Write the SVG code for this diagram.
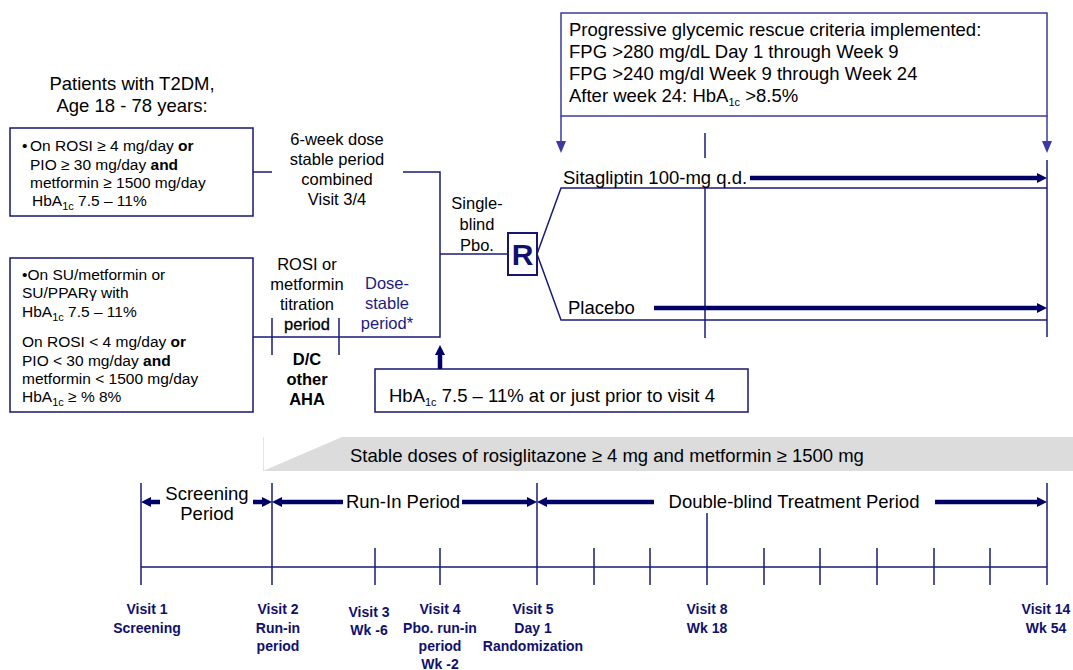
<svg xmlns="http://www.w3.org/2000/svg" width="1073" height="670" viewBox="0 0 1073 670">
<defs>
<style>
text{font-family:"Liberation Sans",Arial,sans-serif;fill:#000}
.t185{font-size:18.5px}
.t165{font-size:16.5px}
.t155{font-size:15.5px}
.sub{font-size:11px}
.b{font-weight:bold}
.mid{text-anchor:middle}
.navy{fill:#1c1c80}
.visit{font-size:14px;font-weight:bold;fill:#10106e;text-anchor:middle}
.box{fill:#fff;stroke:#16166e;stroke-width:1.5}
.thin{stroke:#1a1a78;stroke-width:1.5;fill:none}
.thick{stroke:#000066;stroke-width:4.5;fill:none}
.resc{stroke:#3a3aa0;stroke-width:1.5;fill:none}
</style>
<marker id="ah" markerUnits="userSpaceOnUse" markerWidth="10" markerHeight="10" viewBox="0 0 10 10" refX="0" refY="5" orient="auto-start-reverse">
<path d="M0,0 L10,5 L0,10 z" fill="#000066"/>
</marker>
<marker id="ahr" markerUnits="userSpaceOnUse" markerWidth="12" markerHeight="10" viewBox="0 0 12 10" refX="0" refY="5" orient="auto">
<path d="M0,0 L12,5 L0,10 z" fill="#3a3aa0"/>
</marker>
</defs>
<rect width="1073" height="670" fill="#fff"/>

<g id="title">
<text class="t185 mid" x="132" y="90">Patients with T2DM,</text>
<text class="t185 mid" x="132" y="112">Age 18 - 78 years:</text>
</g>

<g id="box1">
<rect class="box" x="10" y="128" width="243" height="88"/>
<text class="t155" x="22" y="151">•<tspan x="30">On ROSI ≥ 4 mg/day </tspan><tspan class="b">or</tspan></text>
<text class="t155" x="30" y="169.5">PIO ≥ 30 mg/day <tspan class="b">and</tspan></text>
<text class="t155" x="30" y="188">metformin ≥ 1500 mg/day</text>
<text class="t155" x="32" y="206">HbA<tspan class="sub" dy="4">1c</tspan><tspan dy="-4"> 7.5 – 11%</tspan></text>
</g>

<g id="box2">
<rect class="box" x="10" y="258" width="243" height="154"/>
<text class="t155" x="22" y="280">•On SU/metformin or</text>
<text class="t155" x="22" y="298">SU/PPARγ with</text>
<text class="t155" x="22" y="317">HbA<tspan class="sub" dy="4">1c</tspan><tspan dy="-4"> 7.5 – 11%</tspan></text>
<text class="t155" x="22" y="347">On ROSI &lt; 4 mg/day <tspan class="b">or</tspan></text>
<text class="t155" x="22" y="365.5">PIO &lt; 30 mg/day <tspan class="b">and</tspan></text>
<text class="t155" x="22" y="384">metformin &lt; 1500 mg/day</text>
<text class="t155" x="22" y="402">HbA<tspan class="sub" dy="4">1c</tspan><tspan dy="-4"> ≥ % 8%</tspan></text>
</g>

<g id="dose-stable-label">
<text class="t165 mid" x="337" y="144.5">6-week dose</text>
<text class="t165 mid" x="337" y="164.5">stable period</text>
<text class="t165 mid" x="337" y="185">combined</text>
<text class="t165 mid" x="337" y="205">Visit 3/4</text>
</g>

<g id="titration-label">
<text class="t165 mid" x="307" y="270">ROSI or</text>
<text class="t165 mid" x="307" y="290">metformin</text>
<text class="t165 mid" x="307" y="310">titration</text>
<text class="t165 mid" x="307" y="330" stroke="#000" stroke-width="0.3">period</text>
</g>

<g id="dose-stable-period">
<text class="t165 mid navy" x="387" y="289">Dose-</text>
<text class="t165 mid navy" x="387" y="309">stable</text>
<text class="t165 mid navy" x="387" y="329">period*</text>
</g>

<g id="dc-aha">
<text class="t165 mid b" x="307" y="365">D/C</text>
<text class="t165 mid b" x="307" y="385">other</text>
<text class="t165 mid b" x="307" y="405">AHA</text>
</g>

<g id="single-blind">
<text class="t165 mid" x="477" y="209">Single-</text>
<text class="t165 mid" x="477" y="230">blind</text>
<text class="t165 mid" x="477" y="251">Pbo.</text>
</g>

<g id="R">
<rect x="508" y="233" width="29" height="42" fill="#fff" stroke="#16166e" stroke-width="2"/>
<text x="522.5" y="265" text-anchor="middle" font-size="30" font-weight="bold" style="fill:#10106e">R</text>
</g>

<g id="rescue">
<rect x="561" y="13" width="486" height="103" fill="#fff" stroke="#3a3aa0" stroke-width="1.5"/>
<text class="t185" x="569" y="36">Progressive glycemic rescue criteria implemented:</text>
<text class="t185" x="569" y="58">FPG &gt;280 mg/dL Day 1 through Week 9</text>
<text class="t185" x="569" y="80">FPG &gt;240 mg/dl Week 9 through Week 24</text>
<text class="t185" x="569" y="102">After week 24: HbA<tspan class="sub" dy="4">1c</tspan><tspan dy="-4"> &gt;8.5%</tspan></text>
</g>

<g id="hba1c-box">
<rect class="box" x="375" y="369" width="373" height="43"/>
<text class="t185" x="389" y="402">HbA<tspan class="sub" dy="4">1c</tspan><tspan dy="-4"> 7.5 – 11% at or just prior to visit 4</tspan></text>
</g>

<g id="stable-band">
<polygon points="342,437 1073,437 1073,471 263,471" fill="#dcdcdc"/>
<line x1="263.5" y1="437" x2="263.5" y2="471" stroke="#e4e4e4" stroke-width="1"/>
<text class="t185" x="350" y="462">Stable doses of rosiglitazone ≥ 4 mg and metformin ≥ 1500 mg</text>
</g>

<g id="connectors">
<polyline class="thin" points="253,172 272,172"/>
<polyline class="thin" points="403,172 440,172 440,337 253,337"/>
<line class="thin" x1="272" y1="318" x2="272" y2="355"/>
<line class="thin" x1="339" y1="318" x2="339" y2="355"/>
<line class="thin" x1="440" y1="254" x2="508" y2="254"/>
<polyline class="thin" points="537,254 561,188 1047,188"/>
<polyline class="thin" points="537,254 561,320 1047,320"/>
<line class="thin" x1="705" y1="133" x2="705" y2="158"/>
<line class="thin" x1="705" y1="188" x2="705" y2="338"/>
<line class="thin" x1="1047" y1="160" x2="1047" y2="337"/>
<line class="resc" x1="561" y1="116" x2="561" y2="141" marker-end="url(#ahr)"/>
<line class="resc" x1="1047" y1="116" x2="1047" y2="141" marker-end="url(#ahr)"/>
<line class="thick" x1="750" y1="178" x2="1037" y2="178" stroke-width="4" marker-end="url(#ah)"/>
<line class="thick" x1="654" y1="308" x2="1037" y2="308" stroke-width="4" marker-end="url(#ah)"/>
<line class="thick" x1="440" y1="369" x2="440" y2="355" stroke-width="4" marker-end="url(#ah)"/>
</g>

<g id="arm-labels">
<text class="t185" x="563" y="184">Sitagliptin 100-mg q.d.</text>
<text class="t185" x="568" y="314">Placebo</text>
</g>

<g id="timeline">
<line class="thin" x1="141" y1="567" x2="1047" y2="567"/>
<g class="thin">
<line x1="141" y1="483" x2="141" y2="585"/>
<line x1="272" y1="483" x2="272" y2="585"/>
<line x1="537" y1="483" x2="537" y2="585"/>
<line x1="1047" y1="483" x2="1047" y2="585"/>
<line x1="707" y1="513" x2="707" y2="585"/>
<line x1="375" y1="548" x2="375" y2="585"/>
<line x1="440" y1="548" x2="440" y2="585"/>
<line x1="594" y1="548" x2="594" y2="585"/>
<line x1="650" y1="548" x2="650" y2="585"/>
<line x1="764" y1="548" x2="764" y2="585"/>
<line x1="820" y1="548" x2="820" y2="585"/>
<line x1="877" y1="548" x2="877" y2="585"/>
<line x1="934" y1="548" x2="934" y2="585"/>
<line x1="990" y1="548" x2="990" y2="585"/>
</g>
</g>

<g id="period-arrows">
<line class="thick" x1="160" y1="502" x2="151" y2="502" marker-end="url(#ah)"/>
<line class="thick" x1="253" y1="502" x2="262" y2="502" marker-end="url(#ah)"/>
<line class="thick" x1="343" y1="502" x2="282" y2="502" marker-end="url(#ah)"/>
<line class="thick" x1="462" y1="502" x2="527" y2="502" marker-end="url(#ah)"/>
<line class="thick" x1="654" y1="502" x2="547" y2="502" marker-end="url(#ah)"/>
<line class="thick" x1="935" y1="502" x2="1037" y2="502" marker-end="url(#ah)"/>
</g>

<g id="period-labels">
<text class="t185 mid" x="207" y="500">Screening</text>
<text class="t185 mid" x="207" y="520">Period</text>
<text class="t185 mid" x="403" y="508">Run-In Period</text>
<text class="t185 mid" x="794" y="508">Double-blind Treatment Period</text>
</g>

<g id="visit-labels">
<text class="visit" x="147" y="614">Visit 1</text>
<text class="visit" x="147" y="633">Screening</text>
<text class="visit" x="278" y="614">Visit 2</text>
<text class="visit" x="278" y="633">Run-in</text>
<text class="visit" x="278" y="651">period</text>
<text class="visit" x="369" y="617">Visit 3</text>
<text class="visit" x="369" y="635">Wk -6</text>
<text class="visit" x="440" y="614">Visit 4</text>
<text class="visit" x="440" y="633">Pbo. run-in</text>
<text class="visit" x="440" y="651">period</text>
<text class="visit" x="440" y="669">Wk -2</text>
<text class="visit" x="533" y="614">Visit 5</text>
<text class="visit" x="533" y="633">Day 1</text>
<text class="visit" x="533" y="651">Randomization</text>
<text class="visit" x="707" y="614">Visit 8</text>
<text class="visit" x="707" y="633">Wk 18</text>
<text class="visit" x="1046" y="614">Visit 14</text>
<text class="visit" x="1046" y="633">Wk 54</text>
</g>
</svg>
